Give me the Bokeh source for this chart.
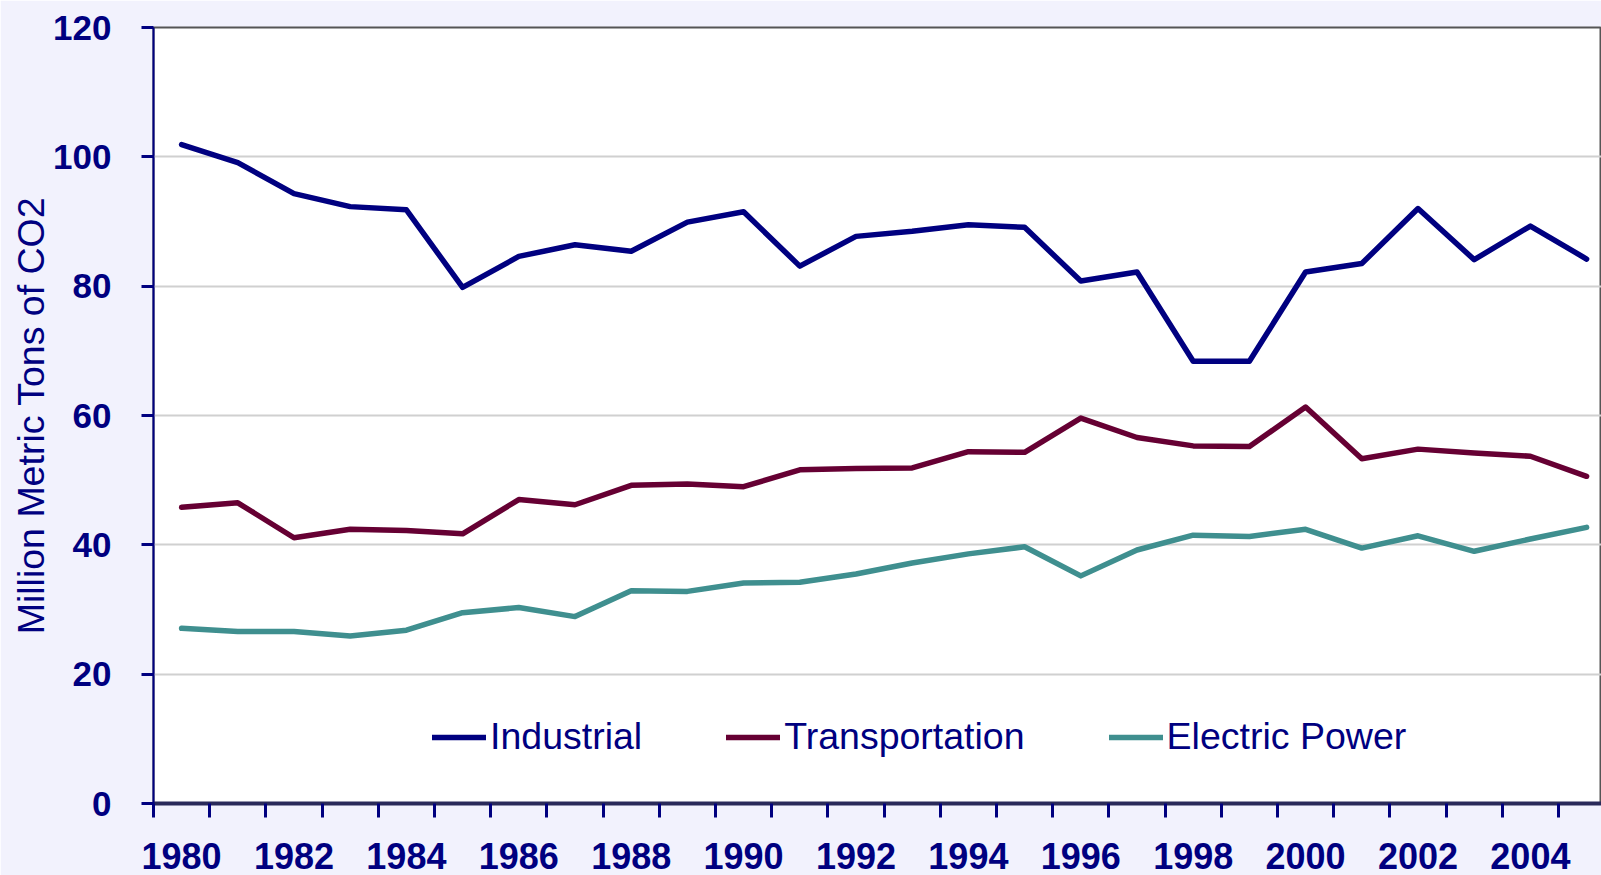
from bokeh.plotting import figure
from bokeh.models import Range1d, FixedTicker, Legend, LegendItem, ColumnDataSource
from bokeh.embed import file_html
from bokeh.resources import INLINE

# ---- data ----
years = list(range(1980, 2006))
industrial = [101.9, 99.1, 94.3, 92.3, 91.8, 79.8, 84.6, 86.4, 85.4, 89.9,
              91.5, 83.1, 87.7, 88.5, 89.5, 89.1, 80.8, 82.2, 68.4, 68.4,
              82.2, 83.5, 92.0, 84.1, 89.3, 84.2]
transportation = [45.8, 46.5, 41.1, 42.4, 42.2, 41.7, 47.0, 46.2, 49.2, 49.4,
                  49.0, 51.6, 51.8, 51.9, 54.4, 54.3, 59.6, 56.6, 55.3, 55.2,
                  61.3, 53.3, 54.8, 54.2, 53.7, 50.6]
electric_power = [27.1, 26.6, 26.6, 25.9, 26.8, 29.5, 30.3, 28.9, 32.9, 32.8,
                  34.1, 34.2, 35.5, 37.2, 38.6, 39.7, 35.2, 39.2, 41.5, 41.3,
                  42.4, 39.5, 41.4, 39.0, 40.9, 42.7]
series_names = ["Industrial", "Transportation", "Electric Power"]
series_colors = ["#000080", "#660033", "#3F8F8F"]
y_ticks = [0, 20, 40, 60, 80, 100, 120]
x_label_years = list(range(1980, 2005, 2))
x_boundaries = [yr - 0.5 for yr in years] + [years[-1] + 0.5]
y_title = "Million Metric Tons of CO2"

NAVY = "#000080"
BG = "#F2F2FD"
FONT = "Liberation Sans"

frame_w = 1448
frame_h = 776
px_per_year = 56.2

p = figure(frame_width=frame_w, frame_height=frame_h,
           output_backend="svg", toolbar_location=None,
           x_range=Range1d(years[0] - 0.5, years[0] - 0.5 + frame_w / px_per_year),
           y_range=Range1d(0, 120),
           min_border_left=153, min_border_top=27, min_border_right=0,
           min_border_bottom=72)

p.border_fill_color = BG
p.background_fill_color = "white"
p.outline_line_color = "#555555"
p.outline_line_width = 2

# x axis
xa = p.xaxis[0]
xa.ticker = FixedTicker(ticks=x_label_years, minor_ticks=x_boundaries)
xa.major_tick_out = 14
xa.major_tick_in = 0
xa.major_tick_line_color = None
xa.minor_tick_out = 14
xa.minor_tick_in = 0
xa.minor_tick_line_color = NAVY
xa.minor_tick_line_width = 3
xa.axis_line_color = "#2A2A5A"
xa.axis_line_width = 4
xa.major_label_text_font = FONT
xa.major_label_text_font_style = "bold"
xa.major_label_text_font_size = "36px"
xa.major_label_text_color = NAVY
xa.major_label_standoff = 25

# y axis
ya = p.yaxis[0]
ya.ticker = FixedTicker(ticks=y_ticks)
ya.minor_tick_line_color = None
ya.major_tick_out = 12
ya.major_tick_in = 0
ya.major_tick_line_color = NAVY
ya.major_tick_line_width = 3
ya.axis_line_color = NAVY
ya.axis_line_width = 2
ya.major_label_text_font = FONT
ya.major_label_text_font_style = "bold"
ya.major_label_text_font_size = "35px"
ya.major_label_text_color = NAVY
ya.major_label_standoff = 30
ya.axis_label = y_title
ya.axis_label_text_font = FONT
ya.axis_label_text_font_style = "normal"
ya.axis_label_text_font_size = "37.5px"
ya.axis_label_text_color = NAVY
ya.axis_label_standoff = -2

p.xgrid.grid_line_color = None
p.ygrid.grid_line_color = "#D0D0D0"
p.ygrid.grid_line_width = 2

items = []
for name, vals, col in zip(series_names, [industrial, transportation, electric_power], series_colors):
    src = ColumnDataSource(dict(x=years, y=vals))
    r = p.line("x", "y", source=src, line_color=col, line_width=5.5,
               line_join="round", line_cap="round")
    items.append(LegendItem(label=name, renderers=[r]))

legend = Legend(items=items, orientation="horizontal", location=(279, 45),
                border_line_color=None, background_fill_alpha=0,
                padding=0, margin=0, glyph_width=54, glyph_height=20,
                label_standoff=4, spacing=84,
                label_text_font=FONT, label_text_font_size="37.5px",
                label_text_color=NAVY)
p.add_layout(legend)

open("out.html", "w").write(file_html(p, INLINE))
